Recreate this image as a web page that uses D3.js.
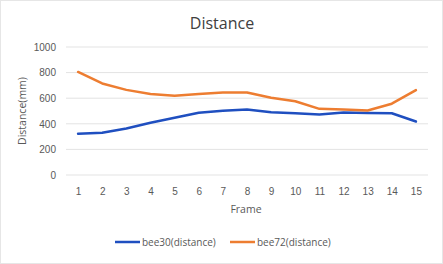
<!DOCTYPE html>
<html>
<head>
<meta charset="utf-8">
<script src="https://cdn.jsdelivr.net/npm/d3@7"></script>
<style>
  body { margin: 0; background: #fff; }
  svg { display: block; font-family: "Open Sans", "Liberation Sans", sans-serif; }
</style>
</head>
<body>
<div id="chart"></div>
<script>
// chart data
const frames = [1, 2, 3, 4, 5, 6, 7, 8, 9, 10, 11, 12, 13, 14, 15];
const bee30 = [322, 330, 364, 408, 447, 487, 502, 512, 490, 482, 472, 488, 484, 482, 418];
const bee72 = [805, 715, 665, 632, 620, 632, 645, 645, 603, 576, 517, 512, 504, 557, 663];
const yTicks = [0, 200, 400, 600, 800, 1000];
const seriesNames = ['bee30(distance)', 'bee72(distance)'];

const COLORS = { 'bee30(distance)': '#1f4fc0', 'bee72(distance)': '#ed7d31' };

const width = 443, height = 264;
const margin = { top: 47, right: 15, bottom: 89, left: 66 };

const svg = d3.select('#chart').append('svg')
  .attr('width', width)
  .attr('height', height);

// card outline
svg.append('rect')
  .attr('x', 0.5).attr('y', 0.5)
  .attr('width', width - 1).attr('height', height - 1)
  .attr('fill', '#fff')
  .attr('stroke', '#e6e6e6');

const x = d3.scalePoint()
  .domain(frames)
  .range([margin.left, width - margin.right])
  .padding(0.5);

const y = d3.scaleLinear()
  .domain([0, 1000])
  .range([height - margin.bottom, margin.top]);

// gridlines
svg.append('g')
  .selectAll('line')
  .data(yTicks)
  .join('line')
  .attr('x1', margin.left).attr('x2', width - margin.right)
  .attr('y1', d => y(d)).attr('y2', d => y(d))
  .attr('stroke', '#e3e3e3')
  .attr('stroke-width', 1);

// y axis labels
const yAxis = svg.append('g')
  .attr('transform', `translate(${margin.left - 10},0)`)
  .call(d3.axisLeft(y).tickValues(yTicks).tickFormat(d3.format('d')).tickSize(0).tickPadding(0));
yAxis.select('.domain').remove();
yAxis.selectAll('text').attr('fill', '#595959').style('font-size', '10px');

// x axis labels
const xAxis = svg.append('g')
  .attr('transform', `translate(0,${height - margin.bottom + 7})`)
  .call(d3.axisBottom(x).tickSize(0).tickPadding(6));
xAxis.select('.domain').remove();
xAxis.selectAll('text').attr('fill', '#595959').style('font-size', '10px');

// title
svg.append('text')
  .attr('x', 222).attr('y', 29)
  .attr('text-anchor', 'middle')
  .attr('fill', '#404040')
  .style('font-size', '16px')
  .text('Distance');

// axis titles
svg.append('text')
  .attr('x', 246).attr('y', 213)
  .attr('text-anchor', 'middle')
  .attr('fill', '#595959')
  .style('font-size', '10.5px')
  .text('Frame');

svg.append('text')
  .attr('transform', `translate(26,${y(500)}) rotate(-90)`)
  .attr('text-anchor', 'middle')
  .attr('fill', '#595959')
  .style('font-size', '10.5px')
  .text('Distance(mm)');

// lines
const line = d3.line()
  .x((d, i) => x(frames[i]))
  .y(d => y(d));

const seriesData = [bee30, bee72];
svg.append('g')
  .selectAll('path')
  .data(seriesData)
  .join('path')
  .attr('fill', 'none')
  .attr('stroke', (d, i) => COLORS[seriesNames[i]])
  .attr('stroke-width', 2.5)
  .attr('stroke-linejoin', 'round')
  .attr('stroke-linecap', 'round')
  .attr('d', line);

// legend
const legendX = [115, 230];
const legend = svg.append('g')
  .selectAll('g')
  .data(seriesNames)
  .join('g')
  .attr('transform', (d, i) => `translate(${legendX[i]},242)`);

legend.append('line')
  .attr('x1', 0).attr('x2', 25)
  .attr('stroke', d => COLORS[d])
  .attr('stroke-width', 2.5);

legend.append('text')
  .attr('x', 27).attr('y', 3.5)
  .attr('fill', '#595959')
  .style('font-size', '10px')
  .text(d => d);
</script>
</body>
</html>
